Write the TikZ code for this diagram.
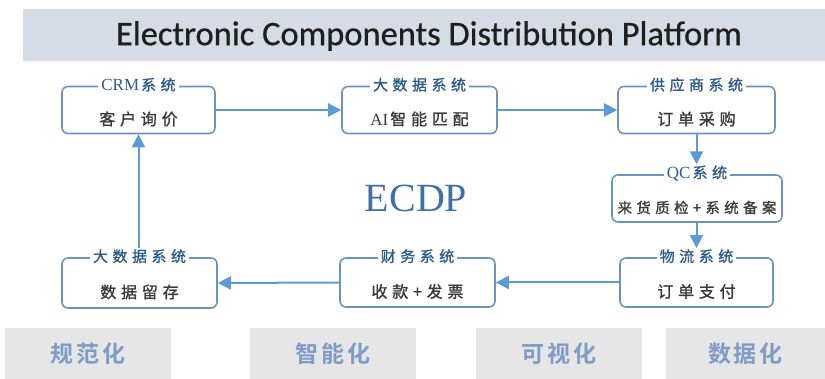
\documentclass[tikz,border=0pt]{standalone}
\usepackage{fontspec}
\setmainfont{Liberation Serif}
\newfontfamily\cjksp[LetterSpace=30,FakeBold=1.2]{Noto Sans CJK SC}
\newfontfamily\latsp[LetterSpace=0]{Liberation Serif}
\newfontfamily\cjkbold[LetterSpace=12]{Noto Sans CJK SC Bold}
\newfontfamily\hdfont[FakeBold=0.6]{Carlito}
\usetikzlibrary{arrows.meta}
\definecolor{hdrgray}{HTML}{D6DCE5}
\definecolor{boxline}{HTML}{6B93C2}
\definecolor{arrowblue}{HTML}{5B9BD5}
\definecolor{titleblue}{HTML}{2E5C8A}
\definecolor{textgray}{HTML}{3A3A3A}
\definecolor{ecdpblue}{HTML}{3E70AA}
\definecolor{btmgray}{HTML}{E6E6E6}
\definecolor{btmtext}{HTML}{7E9CC6}
\newcommand{\lat}[1]{{\latsp\fontsize{17}{17}\selectfont #1}\hspace{2pt}}
\begin{document}
\begin{tikzpicture}[x=1pt,y=-1pt,
  sysbox/.style={draw=boxline, line width=1.6pt, rounded corners=6pt, fill=white, minimum height=47pt, inner sep=0pt},
  systitle/.style={fill=white, inner xsep=3pt, inner ysep=1pt, text=titleblue, font=\cjksp\fontsize{15}{15}\selectfont},
  syscontent/.style={text=textgray, font=\cjksp\fontsize{16}{16}\selectfont},
  flow/.style={draw=arrowblue, line width=2pt, -{Triangle[length=13pt,width=13pt]}},
  tagbox/.style={fill=btmgray, text=btmtext, font=\cjkbold\fontsize{23}{23}\selectfont, minimum height=51pt, inner sep=0pt}]
\useasboundingbox (0,0) rectangle (825,379);
% header
\node[fill=hdrgray, minimum width=802pt, minimum height=52pt, inner sep=0pt, anchor=north west] (hdr) at (23,9) {};
\node[font=\hdfont\fontsize{34.5}{34.5}\selectfont, text=black!88] (hdrtext) at (429,36) {Electronic Components Distribution Platform};
% boxes
\node[sysbox, minimum width=153pt] (crm) at (138.5,110) {};
\node[sysbox, minimum width=155pt] (ai) at (419.5,110) {};
\node[sysbox, minimum width=157pt] (sup) at (696.5,110) {};
\node[sysbox, minimum width=170pt] (qc) at (697,198.5) {};
\node[sysbox, minimum width=153pt, minimum height=49pt] (log) at (696.5,282.5) {};
\node[sysbox, minimum width=155pt, minimum height=49pt] (fin) at (417.5,282.5) {};
\node[sysbox, minimum width=155pt, minimum height=50pt] (dat) at (139.5,283) {};
% titles
\node[systitle] (crmT) at ([yshift=1pt]crm.north) {\lat{CRM}系统};
\node[systitle] (aiT) at ([yshift=1pt]ai.north) {大数据系统};
\node[systitle] (supT) at ([yshift=1pt]sup.north) {供应商系统};
\node[systitle] (qcT) at ([yshift=1pt]qc.north) {\lat{QC}系统};
\node[systitle] (logT) at ([yshift=1pt]log.north) {物流系统};
\node[systitle] (finT) at ([yshift=1pt]fin.north) {财务系统};
\node[systitle] (datT) at ([yshift=1pt]dat.north) {大数据系统};
% contents
\node[syscontent] (crmC) at ([yshift=-9pt]crm.center) {客户询价};
\node[syscontent] (aiC) at ([yshift=-9pt]ai.center) {\lat{AI}智能匹配};
\node[syscontent] (supC) at ([yshift=-9pt]sup.center) {订单采购};
\node[syscontent, font=\cjksp\fontsize{14.5}{14.5}\selectfont] (qcC) at ([yshift=-9pt]qc.center) {来货质检+系统备案};
\node[syscontent] (logC) at ([yshift=-9pt]log.center) {订单支付};
\node[syscontent] (finC) at ([yshift=-9pt]fin.center) {收款+发票};
\node[syscontent] (datC) at ([yshift=-9pt]dat.center) {数据留存};
% centre label
\node[font=\fontsize{40}{40}\selectfont, text=ecdpblue] (ecdp) at (416,198) {ECDP};
% connectors
\draw[flow] (crm.east) -- (ai.west);
\draw[flow] (ai.east) -- (sup.west);
\draw[flow] (sup.south) -- (sup.south |- qcT.north);
\draw[flow] (qc.south -| sup.south) -- (sup.south |- logT.north);
\draw[flow] (log.west) -- (fin.east);
\draw[flow] (fin.west) -- (dat.east);
\draw[flow] (crm.south |- datT.north) -- (crm.south);
% bottom tags
\node[tagbox, minimum width=166pt] (t1) at (88,353.5) {规范化};
\node[tagbox, minimum width=166pt] (t2) at (333,353.5) {智能化};
\node[tagbox, minimum width=166pt] (t3) at (559,353.5) {可视化};
\node[tagbox, minimum width=159pt] (t4) at (745.5,353.5) {数据化};
\end{tikzpicture}
\end{document}
